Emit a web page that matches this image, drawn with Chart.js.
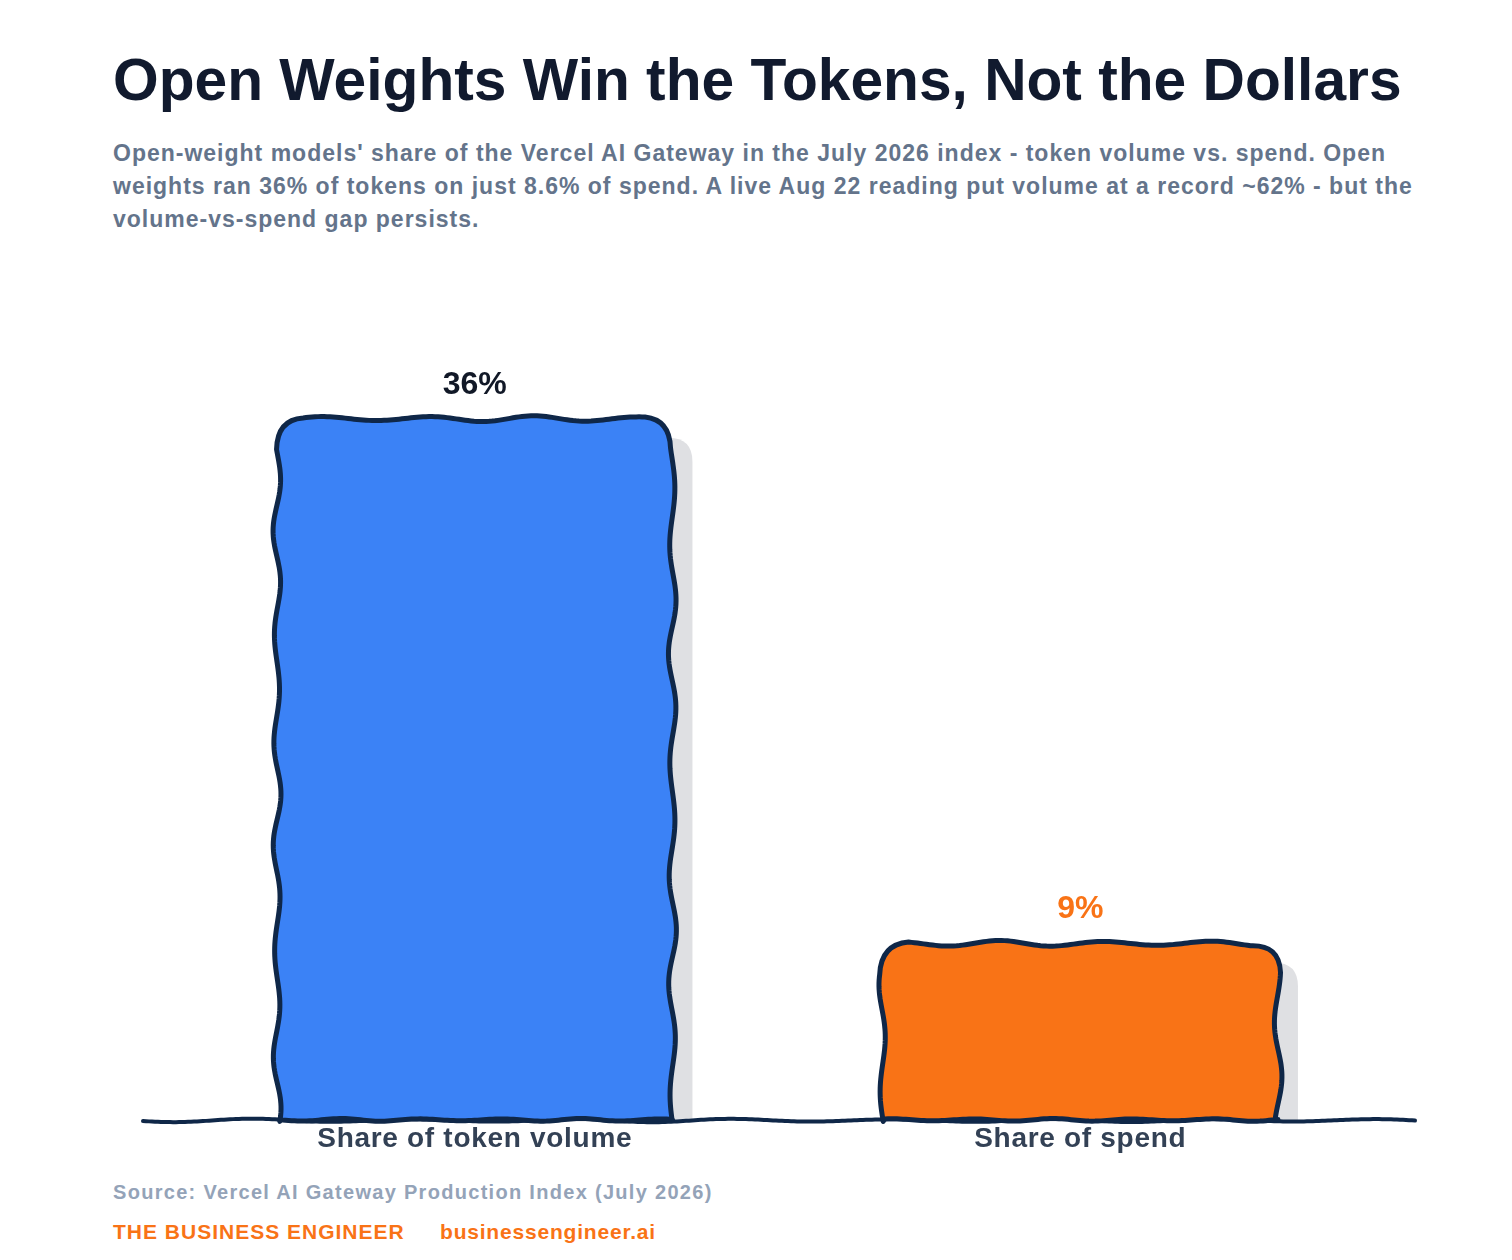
<!DOCTYPE html>
<html>
<head>
<meta charset="utf-8">
<title>Open Weights Win the Tokens, Not the Dollars</title>
<script src="https://cdn.jsdelivr.net/npm/chart.js@4.4.1/dist/chart.umd.min.js"></script>
<style>
    body {
        margin: 0;
        width: 1512px;
        height: 1260px;
        position: relative;
        overflow: hidden;
        background: #ffffff;
        font-family: "Liberation Sans", Arial, sans-serif;
    }
    .title {
        position: absolute;
        left: 113px;
        top: 46px;
        margin: 0;
        font-size: 58.7px;
        line-height: normal;
        font-weight: 700;
        color: #111a2e;
        white-space: nowrap;
    }
    .subtitle {
        position: absolute;
        left: 113px;
        top: 137px;
        width: 1340px;
        margin: 0;
        font-size: 23px;
        line-height: 33px;
        letter-spacing: 1px;
        font-weight: 700;
        color: #64748b;
    }
    .chart-wrap {
        position: absolute;
        left: 0;
        top: 304px;
        width: 1512px;
        height: 853px;
    }
    .source {
        position: absolute;
        left: 113px;
        top: 1181px;
        font-size: 20px;
        letter-spacing: 1.3px;
        font-weight: 700;
        color: #94a3b8;
    }
    .brand {
        position: absolute;
        left: 113px;
        top: 1220px;
        font-size: 21px;
        letter-spacing: 1px;
        font-weight: 700;
        color: #f97316;
        white-space: nowrap;
    }
    .brand span { position: absolute; left: 327px; letter-spacing: 0.8px; }
</style>
</head>
<body>
<h1 class="title">Open Weights Win the Tokens, Not the Dollars</h1>
<p class="subtitle">Open-weight models' share of the Vercel AI Gateway in the July 2026 index - token volume vs. spend. Open weights ran 36% of tokens on just 8.6% of spend. A live Aug 22 reading put volume at a record ~62% - but the volume-vs-spend gap persists.</p>
<div class="chart-wrap"><canvas id="shareChart"></canvas></div>
<div class="source">Source: Vercel AI Gateway Production Index (July 2026)</div>
<div class="brand">THE BUSINESS ENGINEER<span>businessengineer.ai</span></div>

<script>
// ==========================================================================
// DATA
// ==========================================================================
const categories = ['Share of token volume', 'Share of spend'];
const shareValues = [36, 9];
const yMin = 0;
const yMax = 40;

// look
const barColors = ['#3b82f6', '#f97316'];
const valueLabelColors = ['#111827', '#f97316'];
const inkColor = '#0f2748';
const shadowColor = '#dfe0e3';
const fontStack = '"Liberation Sans", Arial, sans-serif';

// smooth deterministic wobble for the hand-drawn look
function wob(t, period, amp, phase) {
    return amp * Math.sin((t / period) * Math.PI * 2 + phase)
         * (0.8 + 0.2 * Math.sin((t / (period * 2.7)) * Math.PI * 2 + phase * 1.3));
}

function roundTopRect(ctx, x, y, w, h, r) {
    ctx.beginPath();
    ctx.moveTo(x, y + h);
    ctx.lineTo(x, y + r);
    ctx.quadraticCurveTo(x, y, x + r, y);
    ctx.lineTo(x + w - r, y);
    ctx.quadraticCurveTo(x + w, y, x + w, y + r);
    ctx.lineTo(x + w, y + h);
    ctx.closePath();
}

function wobblyBarPath(ctx, x0, x1, top, base, seed) {
    const r = 26;
    const sidePeriod = 105, sideAmp = 4.0;
    const topPeriod = 105, topAmp = 3.0;
    const leftX = yy => x0 + wob(base - yy, sidePeriod, sideAmp, seed);
    const rightX = yy => x1 + wob(base - yy, sidePeriod * 1.05, sideAmp, seed + 2.4);
    const topY = xx => top - 3 + wob(xx - x0, topPeriod, topAmp, seed + 1.1);

    ctx.beginPath();
    ctx.moveTo(leftX(base), base);
    for (let yy = base; yy >= top + r; yy -= 3) ctx.lineTo(leftX(yy), yy);
    ctx.quadraticCurveTo(leftX(top + r) + 1, top - 2, x0 + r, topY(x0 + r));
    for (let xx = x0 + r; xx <= x1 - r; xx += 3) ctx.lineTo(xx, topY(xx));
    ctx.quadraticCurveTo(rightX(top + r) - 1, top - 2, rightX(top + r), top + r);
    for (let yy = top + r; yy <= base; yy += 3) ctx.lineTo(rightX(yy), yy);
    for (let xx = x1; xx >= x0; xx -= 3) {
        ctx.lineTo(xx, base - 1.5 + wob(x1 - xx, 80, 1.4, seed + 3));
    }
    ctx.closePath();
}

// ==========================================================================
// SKETCH PLUGIN
// ==========================================================================
const sketchBars = {
    id: 'sketchBars',
    beforeDraw(chart) {
        // slight tracking on the category labels
        chart.ctx.letterSpacing = '0.7px';
    },
    afterDatasetsDraw(chart) {
        const ctx = chart.ctx;
        const area = chart.chartArea;
        const meta = chart.getDatasetMeta(0);
        const bars = meta.data.map(el => el.getProps(['x', 'y', 'base', 'width'], true));

        // drop shadows, clipped at the baseline
        ctx.save();
        ctx.beginPath();
        ctx.rect(0, 0, chart.width, area.bottom);
        ctx.clip();
        ctx.fillStyle = shadowColor;
        bars.forEach(b => {
            const x0 = b.x - b.width / 2;
            roundTopRect(ctx, x0 + 20, b.y + 16, b.width, b.base - b.y, 24);
            ctx.fill();
        });
        ctx.restore();

        // baseline
        ctx.save();
        ctx.strokeStyle = inkColor;
        ctx.lineWidth = 4;
        ctx.lineCap = 'round';
        ctx.beginPath();
        const bx0 = area.left - 29, bx1 = area.right + 32;
        for (let xx = bx0; xx <= bx1; xx += 3) {
            const yy = area.bottom - 1 + wob(xx - bx0, 160, 1.8, 0.4);
            if (xx === bx0) ctx.moveTo(xx, yy); else ctx.lineTo(xx, yy);
        }
        ctx.stroke();
        ctx.restore();

        // bars and value labels
        bars.forEach((b, i) => {
            const x0 = b.x - b.width / 2;
            const x1 = b.x + b.width / 2;
            ctx.save();
            wobblyBarPath(ctx, x0, x1, b.y, b.base, 0.8 + i * 2.1);
            ctx.fillStyle = barColors[i];
            ctx.fill();
            ctx.strokeStyle = inkColor;
            ctx.lineWidth = 5;
            ctx.lineJoin = 'round';
            ctx.stroke();
            ctx.restore();

            ctx.save();
            ctx.letterSpacing = '0px';
            ctx.font = '700 32px ' + fontStack;
            ctx.textAlign = 'center';
            ctx.textBaseline = 'middle';
            ctx.fillStyle = valueLabelColors[i];
            ctx.fillText(Math.round(shareValues[i]) + '%', b.x, b.y - 37);
            ctx.restore();
        });
    }
};

// ==========================================================================
// CHART
// ==========================================================================
const ctxShare = document.getElementById('shareChart').getContext('2d');
new Chart(ctxShare, {
    type: 'bar',
    data: {
        labels: categories,
        datasets: [{
            data: shareValues,
            backgroundColor: 'rgba(0,0,0,0)',
            borderWidth: 0,
            barPercentage: 0.653,
            categoryPercentage: 1
        }]
    },
    options: {
        responsive: true,
        maintainAspectRatio: false,
        animation: false,
        layout: { padding: { left: 172, right: 129, top: 40, bottom: 0 } },
        plugins: {
            legend: { display: false },
            tooltip: { enabled: false }
        },
        scales: {
            x: {
                grid: { display: false, drawTicks: false },
                border: { display: false },
                ticks: {
                    padding: 1,
                    color: '#334155',
                    font: { family: fontStack, size: 28, weight: '700' }
                }
            },
            y: {
                display: false,
                min: yMin,
                max: yMax
            }
        }
    },
    plugins: [sketchBars]
});
</script>
</body>
</html>
